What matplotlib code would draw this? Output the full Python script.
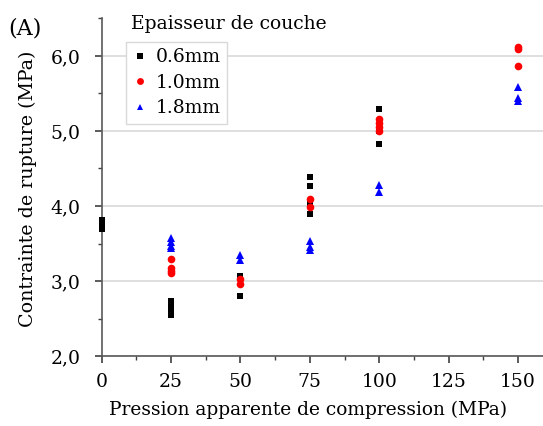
import matplotlib
matplotlib.use("Agg")
import matplotlib.pyplot as plt
from matplotlib.ticker import MultipleLocator, FuncFormatter

plt.rcParams['font.family'] = ['DejaVu Serif']

# Data (pressure MPa, breaking stress MPa)
x_06 = [0, 0, 0, 0, 25, 25, 25, 25, 50, 50, 75, 75, 75, 75, 100, 100, 100]
y_06 = [3.81, 3.76, 3.72, 3.69, 2.73, 2.66, 2.61, 2.55, 3.07, 2.80, 4.39, 4.26, 4.03, 3.89, 5.29, 5.00, 4.83]

x_10 = [25, 25, 25, 25, 50, 50, 75, 75, 100, 100, 100, 100, 150, 150, 150]
y_10 = [3.30, 3.17, 3.13, 3.11, 3.03, 2.96, 4.09, 3.98, 5.16, 5.11, 5.05, 5.00, 6.12, 6.09, 5.87]

x_18 = [25, 25, 25, 25, 50, 50, 75, 75, 75, 100, 100, 150, 150, 150]
y_18 = [3.58, 3.52, 3.47, 3.44, 3.35, 3.28, 3.53, 3.45, 3.41, 4.28, 4.18, 5.58, 5.44, 5.40]

labels = ['0.6mm', '1.0mm', '1.8mm']
legend_title = 'Epaisseur de couche'
xlabel = 'Pression apparente de compression (MPa)'
ylabel = 'Contrainte de rupture (MPa)'

W, H = 543, 426
fig = plt.figure(figsize=(5.43, 4.26), dpi=100)
ax = fig.add_axes([0.1873, 0.1643, 0.8127, 0.7923])

ax.plot(x_06, y_06, ls='none', marker='s', ms=5, color='black', mew=0, label=labels[0], zorder=3, clip_on=False)
ax.plot(x_10, y_10, ls='none', marker='o', ms=5.5, color='red', mew=0, label=labels[1], zorder=4, clip_on=False)
ax.plot(x_18, y_18, ls='none', marker='^', ms=5.5, color='blue', mew=0, label=labels[2], zorder=5, clip_on=False)

ax.set_xlim(0, 159)
ax.set_ylim(2.0, 6.5)
ax.xaxis.set_major_locator(MultipleLocator(25))
ax.xaxis.set_minor_locator(MultipleLocator(12.5))
ax.yaxis.set_major_locator(MultipleLocator(1.0))
ax.yaxis.set_minor_locator(MultipleLocator(0.5))
ax.yaxis.set_major_formatter(FuncFormatter(lambda v, p: f"{v:.1f}".replace('.', ',')))

ax.grid(axis='y', which='major', color='#d9d9d9', lw=1.2, zorder=0)
ax.set_axisbelow(True)
for s in ['top', 'right']:
    ax.spines[s].set_visible(False)
for s in ['left', 'bottom']:
    ax.spines[s].set_color('#595959')
    ax.spines[s].set_linewidth(1.2)
ax.tick_params(which='major', direction='out', length=5, width=1.2, color='#404040', labelsize=13.5)
ax.tick_params(which='minor', direction='out', length=3, width=1.0, color='#404040')
ax.tick_params(axis='y', which='major', pad=10)
ax.tick_params(axis='x', which='major', pad=7)

leg = ax.legend(loc='upper left', bbox_to_anchor=(0.054, 0.931), borderaxespad=0,
                fontsize=13.5, frameon=True,
                fancybox=False, edgecolor='#d9d9d9', framealpha=1, handlelength=0.8,
                handletextpad=0.45, borderpad=0.35, labelspacing=0.4, markerscale=0.9)
leg.get_frame().set_linewidth(1.0)

fig.text(131 / W, 1 - 24 / H, legend_title, fontsize=13.5, ha='left', va='center')
fig.text(8 / W, 1 - 28 / H, '(A)', fontsize=16, ha='left', va='center')
fig.text(308.5 / W, 1 - 410 / H, xlabel, fontsize=13.4, ha='center', va='center')
fig.text(28 / W, 1 - 189 / H, ylabel, fontsize=13.7, ha='center', va='center', rotation=90)

fig.savefig('out.png', dpi=100)
